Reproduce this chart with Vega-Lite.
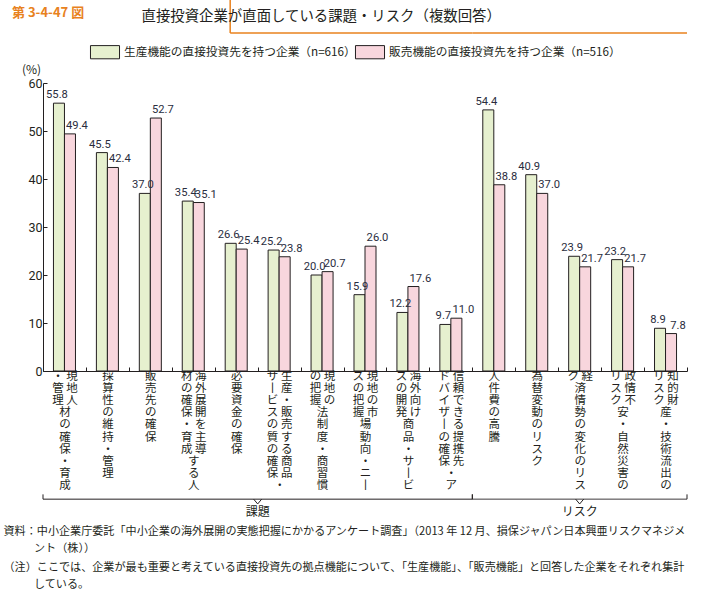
{
  "$schema": "https://vega.github.io/schema/vega-lite/v6.json",
  "width": 644,
  "height": 288,
  "autosize": {"type": "none"},
  "padding": {"left": 43, "top": 83, "right": 17, "bottom": 218},
  "background": "white",
  "config": {"view": {"stroke": null}, "font": "Noto Sans CJK JP"},
  "title": {
    "text": "第 3-4-47 図",
    "subtitle": "\u200b　　　　　　　　　直接投資企業が直面している課題・リスク（複数回答）",
    "anchor": "start",
    "frame": "group",
    "dx": -31,
    "offset": -24,
    "font": "Noto Sans CJK JP",
    "fontSize": 13,
    "fontWeight": "bold",
    "color": "#e8821e",
    "subtitleFont": "Noto Sans CJK JP",
    "subtitleFontSize": 14.4,
    "subtitleColor": "#231f20",
    "subtitlePadding": -10
  },
  "datasets": {
    "bars": [
      {"category": "現地人材の確保・育成・管理", "group": "課題", "series": "生産機能の直接投資先を持つ企業（n=616）", "value": 55.8},
      {"category": "現地人材の確保・育成・管理", "group": "課題", "series": "販売機能の直接投資先を持つ企業（n=516）", "value": 49.4},
      {"category": "採算性の維持・管理", "group": "課題", "series": "生産機能の直接投資先を持つ企業（n=616）", "value": 45.5},
      {"category": "採算性の維持・管理", "group": "課題", "series": "販売機能の直接投資先を持つ企業（n=516）", "value": 42.4},
      {"category": "販売先の確保", "group": "課題", "series": "生産機能の直接投資先を持つ企業（n=616）", "value": 37.0},
      {"category": "販売先の確保", "group": "課題", "series": "販売機能の直接投資先を持つ企業（n=516）", "value": 52.7},
      {"category": "海外展開を主導する人材の確保・育成", "group": "課題", "series": "生産機能の直接投資先を持つ企業（n=616）", "value": 35.4},
      {"category": "海外展開を主導する人材の確保・育成", "group": "課題", "series": "販売機能の直接投資先を持つ企業（n=516）", "value": 35.1},
      {"category": "必要資金の確保", "group": "課題", "series": "生産機能の直接投資先を持つ企業（n=616）", "value": 26.6},
      {"category": "必要資金の確保", "group": "課題", "series": "販売機能の直接投資先を持つ企業（n=516）", "value": 25.4},
      {"category": "生産・販売する商品・サービスの質の確保", "group": "課題", "series": "生産機能の直接投資先を持つ企業（n=616）", "value": 25.2},
      {"category": "生産・販売する商品・サービスの質の確保", "group": "課題", "series": "販売機能の直接投資先を持つ企業（n=516）", "value": 23.8},
      {"category": "現地の法制度・商習慣の把握", "group": "課題", "series": "生産機能の直接投資先を持つ企業（n=616）", "value": 20.0},
      {"category": "現地の法制度・商習慣の把握", "group": "課題", "series": "販売機能の直接投資先を持つ企業（n=516）", "value": 20.7},
      {"category": "現地の市場動向・ニーズの把握", "group": "課題", "series": "生産機能の直接投資先を持つ企業（n=616）", "value": 15.9},
      {"category": "現地の市場動向・ニーズの把握", "group": "課題", "series": "販売機能の直接投資先を持つ企業（n=516）", "value": 26.0},
      {"category": "海外向け商品・サービスの開発", "group": "課題", "series": "生産機能の直接投資先を持つ企業（n=616）", "value": 12.2},
      {"category": "海外向け商品・サービスの開発", "group": "課題", "series": "販売機能の直接投資先を持つ企業（n=516）", "value": 17.6},
      {"category": "信頼できる提携先・アドバイザーの確保", "group": "課題", "series": "生産機能の直接投資先を持つ企業（n=616）", "value": 9.7},
      {"category": "信頼できる提携先・アドバイザーの確保", "group": "課題", "series": "販売機能の直接投資先を持つ企業（n=516）", "value": 11.0},
      {"category": "人件費の高騰", "group": "リスク", "series": "生産機能の直接投資先を持つ企業（n=616）", "value": 54.4},
      {"category": "人件費の高騰", "group": "リスク", "series": "販売機能の直接投資先を持つ企業（n=516）", "value": 38.8},
      {"category": "為替変動のリスク", "group": "リスク", "series": "生産機能の直接投資先を持つ企業（n=616）", "value": 40.9},
      {"category": "為替変動のリスク", "group": "リスク", "series": "販売機能の直接投資先を持つ企業（n=516）", "value": 37.0},
      {"category": "経済情勢の変化のリスク", "group": "リスク", "series": "生産機能の直接投資先を持つ企業（n=616）", "value": 23.9},
      {"category": "経済情勢の変化のリスク", "group": "リスク", "series": "販売機能の直接投資先を持つ企業（n=516）", "value": 21.7},
      {"category": "政情不安・自然災害のリスク", "group": "リスク", "series": "生産機能の直接投資先を持つ企業（n=616）", "value": 23.2},
      {"category": "政情不安・自然災害のリスク", "group": "リスク", "series": "販売機能の直接投資先を持つ企業（n=516）", "value": 21.7},
      {"category": "知的財産・技術流出のリスク", "group": "リスク", "series": "生産機能の直接投資先を持つ企業（n=616）", "value": 8.9},
      {"category": "知的財産・技術流出のリスク", "group": "リスク", "series": "販売機能の直接投資先を持つ企業（n=516）", "value": 7.8}
    ],
    "braces": [
      {"group": "課題", "first": "現地人材の確保・育成・管理", "last": "信頼できる提携先・アドバイザーの確保", "mid": "必要資金の確保"},
      {"group": "リスク", "first": "人件費の高騰", "last": "知的財産・技術流出のリスク", "mid": "経済情勢の変化のリスク"}
    ]
  },
  "layer": [
    {
      "data": {"name": "bars"},
      "mark": {"type": "bar", "stroke": "#231f20", "strokeWidth": 1},
      "encoding": {
        "x": {
          "field": "category",
          "type": "nominal",
          "sort": null,
          "scale": {
            "domain": ["現地人材の確保・育成・管理", "採算性の維持・管理", "販売先の確保", "海外展開を主導する人材の確保・育成", "必要資金の確保", "生産・販売する商品・サービスの質の確保", "現地の法制度・商習慣の把握", "現地の市場動向・ニーズの把握", "海外向け商品・サービスの開発", "信頼できる提携先・アドバイザーの確保", "人件費の高騰", "為替変動のリスク", "経済情勢の変化のリスク", "政情不安・自然災害のリスク", "知的財産・技術流出のリスク"],
            "paddingInner": 0,
            "paddingOuter": 0
          },
          "axis": {
            "title": [
              "資料：中小企業庁委託「中小企業の海外展開の実態把握にかかるアンケート調査」（2013 年 12 月、損保ジャパン日本興亜リスクマネジメ",
              "（注）ここでは、企業が最も重要と考えている直接投資先の拠点機能について、「生産機能」、「販売機能」と回答した企業をそれぞれ集計"
            ],
            "titleX": -40,
            "titleY": 154,
            "titleAnchor": "start",
            "titleAlign": "left",
            "titleBaseline": "top",
            "titleFont": "Noto Sans CJK JP",
            "titleFontSize": 11.1,
            "titleFontWeight": "normal",
            "titleLineHeight": 36,
            "titleColor": "#231f20",
            "labelExpr": "length(datum.label) > 10 ? [(substring(replace(datum.label,'ー','丨'),10,11)||'　')+' '+substring(replace(datum.label,'ー','丨'),0,1), (substring(replace(datum.label,'ー','丨'),11,12)||'　')+' '+substring(replace(datum.label,'ー','丨'),1,2), (substring(replace(datum.label,'ー','丨'),12,13)||'　')+' '+substring(replace(datum.label,'ー','丨'),2,3), (substring(replace(datum.label,'ー','丨'),13,14)||'　')+' '+substring(replace(datum.label,'ー','丨'),3,4), (substring(replace(datum.label,'ー','丨'),14,15)||'　')+' '+substring(replace(datum.label,'ー','丨'),4,5), (substring(replace(datum.label,'ー','丨'),15,16)||'　')+' '+substring(replace(datum.label,'ー','丨'),5,6), (substring(replace(datum.label,'ー','丨'),16,17)||'　')+' '+substring(replace(datum.label,'ー','丨'),6,7), (substring(replace(datum.label,'ー','丨'),17,18)||'　')+' '+substring(replace(datum.label,'ー','丨'),7,8), (substring(replace(datum.label,'ー','丨'),18,19)||'　')+' '+substring(replace(datum.label,'ー','丨'),8,9), (substring(replace(datum.label,'ー','丨'),19,20)||'　')+' '+substring(replace(datum.label,'ー','丨'),9,10)] : split(replace(datum.label,'ー','丨'),'')",
            "labelAngle": 0,
            "labelAlign": "center",
            "labelBaseline": "top",
            "labelFont": "Noto Sans CJK JP",
            "labelFontSize": 11.5,
            "labelLineHeight": 12.2,
            "labelPadding": 3,
            "labelColor": "#231f20",
            "labelOverlap": false,
            "labelLimit": 0,
            "tickBand": "extent",
            "tickSize": -4,
            "tickColor": "#231f20",
            "domainColor": "#231f20"
          }
        },
        "xOffset": {
          "field": "series",
          "type": "nominal",
          "scale": {"domain": ["生産機能の直接投資先を持つ企業（n=616）", "販売機能の直接投資先を持つ企業（n=516）"], "paddingInner": 0, "paddingOuter": 0.95}
        },
        "y": {
          "field": "value",
          "type": "quantitative",
          "scale": {"domain": [0, 60], "nice": false},
          "axis": {
            "title": "(%)",
            "titleAngle": 0,
            "titleX": -12,
            "titleY": -14,
            "titleAlign": "center",
            "titleBaseline": "middle",
            "titleFont": "Noto Sans CJK JP",
            "titleFontSize": 12,
            "titleFontWeight": "normal",
            "titleColor": "#231f20",
            "values": [0, 10, 20, 30, 40, 50, 60],
            "grid": false,
            "tickSize": -4,
            "labelPadding": 5,
            "labelFont": "Roboto",
            "labelFontSize": 12.5,
            "labelColor": "#231f20",
            "tickColor": "#231f20",
            "domainColor": "#231f20"
          }
        },
        "color": {
          "field": "series",
          "type": "nominal",
          "scale": {"domain": ["生産機能の直接投資先を持つ企業（n=616）", "販売機能の直接投資先を持つ企業（n=516）"], "range": ["#e6f0cf", "#f8d6dd"]},
          "legend": {
            "orient": "none",
            "legendX": 48,
            "legendY": -45,
            "direction": "horizontal",
            "title": null,
            "symbolType": "M-1.1,-0.5H1.1V0.5H-1.1Z",
            "symbolSize": 697,
            "symbolStrokeColor": "#231f20",
            "symbolStrokeWidth": 1,
            "labelFont": "Noto Sans CJK JP",
            "labelFontSize": 11.7,
            "labelColor": "#231f20",
            "labelOffset": 5,
            "labelLimit": 400,
            "columnPadding": -10,
            "padding": 0
          }
        }
      }
    },
    {
      "data": {"name": "bars"},
      "transform": [{"filter": "datum.series === '生産機能の直接投資先を持つ企業（n=616）'"}],
      "mark": {"type": "text", "baseline": "bottom", "dy": -3, "dx": -2, "font": "Roboto", "fontSize": 11.2, "color": "#2a2d3e"},
      "encoding": {
        "x": {"field": "category", "type": "nominal", "sort": null},
        "xOffset": {"field": "series", "type": "nominal"},
        "y": {"field": "value", "type": "quantitative"},
        "text": {"field": "value", "type": "quantitative", "format": ".1f"}
      }
    },
    {
      "data": {"name": "bars"},
      "transform": [{"filter": "datum.series === '販売機能の直接投資先を持つ企業（n=516）'"}],
      "mark": {"type": "text", "baseline": "bottom", "dy": -3, "dx": 7, "font": "Roboto", "fontSize": 11.2, "color": "#2a2d3e"},
      "encoding": {
        "x": {"field": "category", "type": "nominal", "sort": null},
        "xOffset": {"field": "series", "type": "nominal"},
        "y": {"field": "value", "type": "quantitative"},
        "text": {"field": "value", "type": "quantitative", "format": ".1f"}
      }
    },
    {
      "data": {"name": "braces"},
      "mark": {"type": "rule", "color": "#231f20", "strokeWidth": 1},
      "encoding": {
        "x": {"field": "first", "type": "nominal", "bandPosition": 0},
        "x2": {"field": "last", "bandPosition": 1},
        "y": {"datum": -26.7},
        "strokeDash": {
          "field": "group",
          "type": "nominal",
          "scale": {"range": [[1, 0], [1, 0]]},
          "legend": {
            "orient": "none",
            "legendX": -9,
            "legendY": 460,
            "title": ["ント（株））", "している。"],
            "titleFont": "Noto Sans CJK JP",
            "titleFontSize": 11.1,
            "titleFontWeight": "normal",
            "titleColor": "#231f20",
            "titleLineHeight": 36,
            "titleLimit": 0,
            "titlePadding": 0,
            "labelExpr": "''",
            "symbolOpacity": 0,
            "symbolStrokeWidth": 0,
            "labelOpacity": 0,
            "labelFontSize": 1,
            "symbolSize": 1,
            "padding": 0
          }
        }
      }
    },
    {
      "data": {"name": "braces"},
      "mark": {"type": "rule", "color": "#231f20", "strokeWidth": 1},
      "encoding": {
        "x": {"field": "first", "type": "nominal", "bandPosition": 0},
        "y": {"datum": -26.7},
        "y2": {"datum": -25.7}
      }
    },
    {
      "data": {"name": "braces"},
      "mark": {"type": "rule", "color": "#231f20", "strokeWidth": 1},
      "encoding": {
        "x": {"field": "last", "type": "nominal", "bandPosition": 1},
        "y": {"datum": -26.7},
        "y2": {"datum": -25.7}
      }
    },
    {
      "data": {"name": "braces"},
      "transform": [{"filter": "datum.group === '課題'"}],
      "layer": [
        {
          "mark": {"type": "point", "shape": "M-1,0L0,1.2L1,0", "size": 64, "filled": false, "stroke": "#231f20", "strokeWidth": 1, "opacity": 1},
          "encoding": {"x": {"field": "mid", "type": "nominal", "bandPosition": 1}, "y": {"datum": -26.7}}
        },
        {
          "mark": {"type": "text", "baseline": "middle", "align": "center", "font": "Noto Sans CJK JP", "fontSize": 12, "color": "#231f20"},
          "encoding": {"x": {"field": "mid", "type": "nominal", "bandPosition": 1}, "y": {"datum": -29.4}, "text": {"field": "group"}}
        },
        {
          "mark": {"type": "rule", "color": "#e8821e", "strokeWidth": 1.5},
          "encoding": {
            "x": {"field": "mid", "type": "nominal", "bandPosition": 0.36},
            "x2": {"field": "last", "bandPosition": 1},
            "y": {"datum": 70.4}
          }
        },
        {
          "mark": {"type": "rule", "color": "#e8821e", "strokeWidth": 1.5},
          "encoding": {
            "x": {"field": "mid", "type": "nominal", "bandPosition": 0.36},
            "y": {"datum": 70.4},
            "y2": {"datum": 77.3}
          }
        }
      ]
    },
    {
      "data": {"name": "braces"},
      "transform": [{"filter": "datum.group === 'リスク'"}],
      "layer": [
        {
          "mark": {"type": "point", "shape": "M-1,0L0,1.2L1,0", "size": 64, "filled": false, "stroke": "#231f20", "strokeWidth": 1, "opacity": 1},
          "encoding": {"x": {"field": "mid", "type": "nominal", "bandPosition": 0.5}, "y": {"datum": -26.7}}
        },
        {
          "mark": {"type": "text", "baseline": "middle", "align": "center", "font": "Noto Sans CJK JP", "fontSize": 12, "color": "#231f20"},
          "encoding": {"x": {"field": "mid", "type": "nominal", "bandPosition": 0.5}, "y": {"datum": -29.4}, "text": {"field": "group"}}
        },
        {
          "mark": {"type": "rule", "color": "#e8821e", "strokeWidth": 1.5},
          "encoding": {
            "x": {"field": "first", "type": "nominal", "bandPosition": 0},
            "x2": {"field": "last", "bandPosition": 1},
            "y": {"datum": 70.4}
          }
        }
      ]
    }
  ]
}
